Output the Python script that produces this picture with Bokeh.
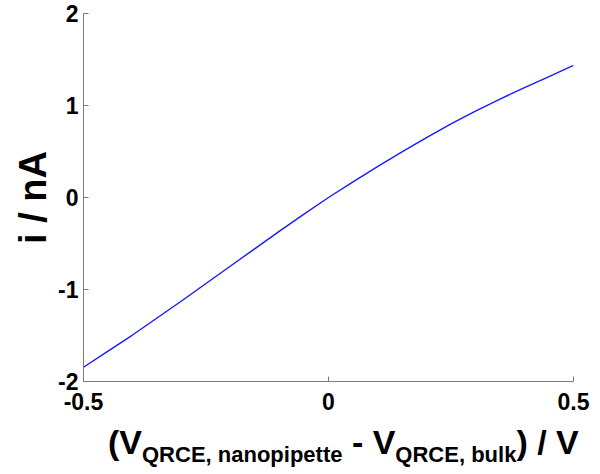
from bokeh.plotting import figure
from bokeh.models import Range1d, FixedTicker, Div
from bokeh.layouts import column
from bokeh.embed import file_html
from bokeh.resources import INLINE

# Data
potential_V = [-0.50, -0.45, -0.40, -0.35, -0.30, -0.25, -0.20, -0.15, -0.10, -0.05,
               0.00, 0.05, 0.10, 0.15, 0.20, 0.25, 0.30, 0.35, 0.40, 0.45, 0.50]
current_nA = [-1.845, -1.67, -1.495, -1.31, -1.125, -0.935, -0.745, -0.555, -0.365, -0.18,
              0.00, 0.17, 0.335, 0.495, 0.65, 0.80, 0.94, 1.07, 1.195, 1.315, 1.435]
x_ticks = [-0.5, 0, 0.5]
y_ticks = [-2, -1, 0, 1, 2]
x_tick_labels = {-0.5: "-0.5", 0: "0", 0.5: "0.5"}
y_tick_labels = {-2: "-2", -1: "-1", 0: "0", 1: "1", 2: "2"}
y_label = "i / nA"
x_label_parts = [("(V", "main"), ("QRCE, nanopipette", "sub"), (" - V", "main"),
                 ("QRCE, bulk", "sub"), (") / V", "main")]

FONT = "Liberation Sans"

p = figure(width=600, height=424, output_backend="svg", toolbar_location=None,
           x_range=Range1d(-0.5, 0.5), y_range=Range1d(-2, 2),
           min_border_left=83, min_border_right=27, min_border_top=13,
           min_border_bottom=43)
p.outline_line_color = None
p.xgrid.visible = False
p.ygrid.visible = False
p.background_fill_color = "white"
p.border_fill_color = "white"

p.line(potential_V, current_nA, line_color="#1a1aff", line_width=1.4)

for ax in (p.xaxis[0], p.yaxis[0]):
    ax.axis_line_color = "#7a7a7a"
    ax.axis_line_width = 1
    ax.major_tick_line_color = "#7a7a7a"
    ax.major_tick_in = 5
    ax.major_tick_out = 0
    ax.minor_tick_line_color = None
    ax.major_label_text_font = FONT
    ax.major_label_text_font_style = "bold"
    ax.major_label_text_font_size = "23px"
    ax.major_label_text_color = "black"

p.xaxis[0].ticker = FixedTicker(ticks=x_ticks)
p.xaxis[0].major_label_overrides = x_tick_labels
p.xaxis[0].major_label_standoff = 11
p.yaxis[0].ticker = FixedTicker(ticks=y_ticks)
p.yaxis[0].major_label_overrides = y_tick_labels
p.yaxis[0].major_label_standoff = 5

p.yaxis[0].axis_label = y_label
p.yaxis[0].axis_label_text_font = FONT
p.yaxis[0].axis_label_text_font_style = "bold"
p.yaxis[0].axis_label_text_font_size = "38px"
p.yaxis[0].axis_label_text_color = "black"
p.yaxis[0].axis_label_standoff = 1

# x-axis title with real subscripts (HTML text)
pieces = []
for text, kind in x_label_parts:
    t = text.replace(" ", "&nbsp;") if kind == "main" else text
    if kind == "sub":
        pieces.append(f'<span style="font-size:22px;position:relative;top:8px;">{t}</span>')
    else:
        pieces.append(t)
html = ('<div style="font-family:\'Liberation Sans\',Arial,sans-serif;font-weight:bold;'
        'font-size:34px;line-height:34px;white-space:nowrap;margin-left:103px;'
        'position:relative;top:-4px;color:black;">' + "".join(pieces) + '</div>')
div = Div(text=html, width=600, height=50)

layout = column(p, div, spacing=0)
open("out.html", "w").write(file_html(layout, INLINE))
